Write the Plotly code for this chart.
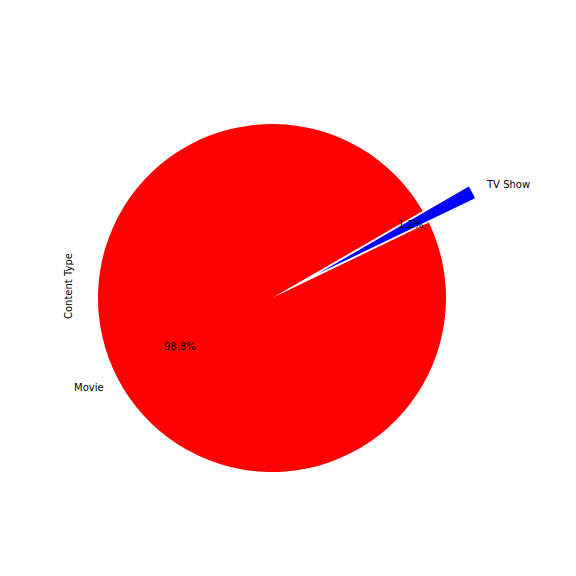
import numpy as np
import plotly.graph_objects as go

# Data
categories = ["Movie", "TV Show"]
shares = [98.8, 1.2]
colors = ["#ff0000", "#0000ff"]
pulls = [0.0, 0.3]
axis_label = "Content Type"

# Geometry (pixels, 576x576 canvas)
W = H = 576
CX, CY, R = 272.0, 298.0, 174.0
START_ANGLE = 30.0  # math degrees, counterclockwise

maxpull = max(pulls)
half = R * (1 + maxpull)
dom_x = [(CX - half) / W, (CX + half) / W]
yc = 1 - CY / H
dom_y = [yc - half / H, yc + half / H]

tot = sum(shares)
# plotly places the counterclockwise sequence so that the last slice ends at the rotation point
rotation = 90 - START_ANGLE + 360 * shares[-1] / tot

fig = go.Figure(go.Pie(
    labels=categories,
    values=shares,
    marker=dict(colors=colors, line=dict(width=0)),
    pull=pulls,
    sort=False,
    direction="counterclockwise",
    rotation=rotation,
    textinfo="none",
    showlegend=False,
    domain=dict(x=dom_x, y=dom_y),
))

# Labels (outside, at 1.1 r) and percentages (at 0.6 r), like matplotlib autopct
ang = START_ANGLE
annotations = []
font = dict(family="DejaVu Sans", size=10, color="black")
for lab, v, p in zip(categories, shares, pulls):
    span = 360 * v / tot
    mid = np.deg2rad(ang + span / 2)
    ang += span
    ox = CX + p * R * np.cos(mid)
    oy = CY - p * R * np.sin(mid)
    lx = ox + 1.1 * R * np.cos(mid)
    ly = oy - 1.1 * R * np.sin(mid)
    right_side = np.cos(mid) > 0
    annotations.append(dict(
        x=lx / W, y=1 - ly / H, xref="paper", yref="paper", text=lab,
        showarrow=False, font=font, borderpad=0,
        xshift=-2 if right_side else 2,
        xanchor="left" if right_side else "right", yanchor="middle"))
    px_ = ox + 0.6 * R * np.cos(mid)
    py_ = oy - 0.6 * R * np.sin(mid)
    annotations.append(dict(
        x=px_ / W, y=1 - py_ / H, xref="paper", yref="paper",
        text=f"{100 * v / tot:.1f}%", showarrow=False, font=font,
        xanchor="center", yanchor="middle"))

annotations.append(dict(
    x=68 / W, y=1 - 286 / H, xref="paper", yref="paper", text=axis_label,
    showarrow=False, font=font, textangle=-90,
    xanchor="center", yanchor="middle"))

fig.update_layout(
    width=W, height=H,
    margin=dict(l=0, r=0, t=0, b=0),
    paper_bgcolor="white",
    plot_bgcolor="white",
    annotations=annotations,
)

fig.write_html("out.html")
